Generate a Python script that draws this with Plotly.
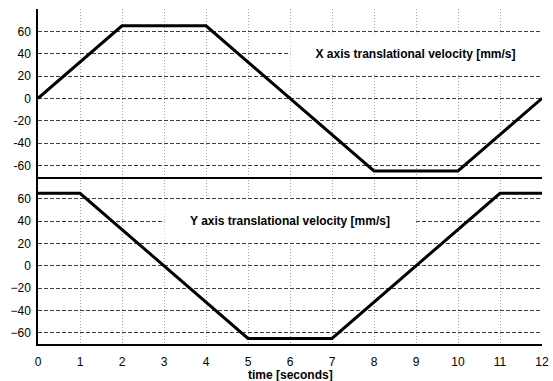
import plotly.graph_objects as go

# Data
t_x = [0, 2, 4, 8, 10, 12]
vel_x = [0, 65, 65, -65, -65, 0]
t_y = [0, 1, 5, 7, 11, 12]
vel_y = [65, 65, -65, -65, 65, 65]

x_ticks = list(range(0, 13))
x_major = list(range(0, 13, 2))
y_ticks = [-60, -40, -20, 0, 20, 40, 60]
y_range = [-70, 80]
x_range = [0, 12]

title_x = "X axis translational velocity [mm/s]"
title_y = "Y axis translational velocity [mm/s]"
x_label = "time [seconds]"

SANS = "Liberation Sans, Arial, sans-serif"
TICKF = dict(family=SANS, size=12, color="black")
TITLEF = dict(family=SANS, size=12, color="black")
DARK = "#404040"
LIGHT = "#a0a0a0"
DASH = "4px,2px"
DOT = "1px,2px"

fig = go.Figure()
fig.add_trace(go.Scatter(x=t_x, y=vel_x, mode="lines", xaxis="x2", yaxis="y2",
                         line=dict(color="black", width=3), showlegend=False))
fig.add_trace(go.Scatter(x=t_y, y=vel_y, mode="lines", xaxis="x", yaxis="y",
                         line=dict(color="black", width=3), showlegend=False))

common_x = dict(range=x_range, zeroline=False, showgrid=True, automargin=False)
common_y = dict(range=y_range, zeroline=False, tickfont=TICKF, automargin=False,
                ticks="outside", ticklen=3, tickcolor="rgba(0,0,0,0)",
                gridcolor=DARK, griddash=DASH, gridwidth=1,
                showline=True, linecolor="black", linewidth=1.5)
fig.update_layout(
    width=553, height=381,
    margin=dict(l=38, r=11, t=9, b=37),
    paper_bgcolor="white", plot_bgcolor="white",
    xaxis=dict(**common_x, anchor="y", tickvals=x_ticks, tickfont=TICKF,
               ticks="outside", ticklen=6, tickcolor="rgba(0,0,0,0)",
               gridcolor=LIGHT, griddash=DOT, gridwidth=1,
               showline=True, linecolor="black", linewidth=1.5),
    xaxis3=dict(**common_x, anchor="y", overlaying="x", tickvals=x_major, ticks="",
                showticklabels=False, gridcolor=DARK, griddash=DASH, gridwidth=1),
    xaxis2=dict(**common_x, anchor="y2", tickvals=x_ticks, showticklabels=False, ticks="",
                gridcolor=LIGHT, griddash=DOT, gridwidth=1,
                showline=True, linecolor="black", linewidth=1.5),
    xaxis4=dict(**common_x, anchor="y2", overlaying="x2", tickvals=x_major, ticks="",
                showticklabels=False, gridcolor=DARK, griddash=DASH, gridwidth=1),
    yaxis=dict(**common_y, domain=[0, 0.5], tickvals=y_ticks),
    yaxis2=dict(**common_y, domain=[0.5, 1], tickvals=y_ticks + [80],
                ticktext=[str(v) for v in y_ticks] + [""]),
    annotations=[
        dict(text="<b>" + title_x + "</b>", x=8.99, y=40, xref="x2", yref="y2",
             showarrow=False, font=TITLEF, bgcolor="white", borderpad=0,
             width=249, height=40, align="center", valign="middle"),
        dict(text="<b>" + title_y + "</b>", x=6, y=40, xref="x", yref="y",
             showarrow=False, font=TITLEF, bgcolor="white", borderpad=0,
             width=250, height=40, align="center", valign="middle"),
        dict(text="<b>" + x_label + "</b>", x=0.5, y=0, xref="paper", yref="paper",
             xanchor="center", yanchor="middle", yshift=-31,
             showarrow=False, font=TITLEF),
    ],
)

fig.write_html("out.html")
